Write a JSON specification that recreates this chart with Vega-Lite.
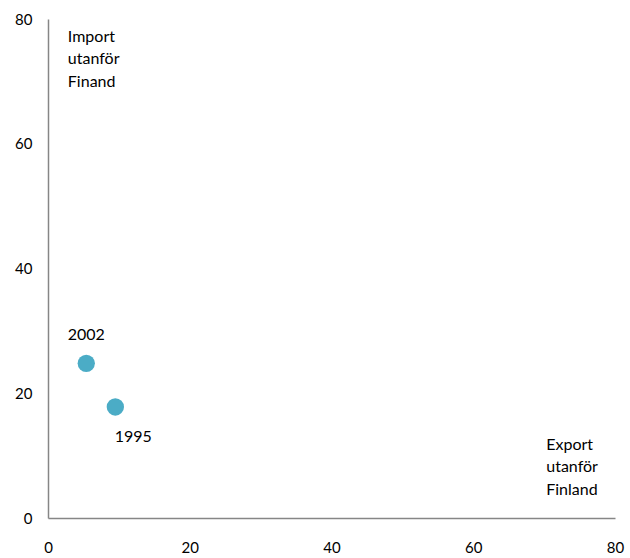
{
  "$schema": "https://vega.github.io/schema/vega-lite/v6.json",
  "autosize": "none",
  "width": 567,
  "height": 499,
  "padding": {"left": 48, "top": 19, "right": 15, "bottom": 40},
  "background": "white",
  "config": {
    "view": {"stroke": null},
    "font": "Lato",
    "axis": {"grid": false, "ticks": false, "domainColor": "#868686", "domainWidth": 1.5, "labelFont": "Lato", "labelFontSize": 15, "labelColor": "#000000", "title": null}
  },
  "datasets": {
    "points": [
      {"export": 5.4, "import": 24.8, "year": "2002"},
      {"export": 9.5, "import": 17.8, "year": "1995"}
    ],
    "notes": [
      {"x": 2.8, "y": 78.4, "text": ["Import", "utanför", "Finand"]},
      {"x": 70.3, "y": 13.0, "text": ["Export", "utanför", "Finland"]}
    ]
  },
  "layer": [
    {
      "data": {"name": "points"},
      "mark": {"type": "circle", "size": 300, "opacity": 1, "color": "#4BACC6"},
      "encoding": {
        "x": {"field": "export", "type": "quantitative", "scale": {"domain": [0, 80], "nice": false}, "axis": {"values": [0, 20, 40, 60, 80], "labelPadding": 22, "labelFlush": false}},
        "y": {"field": "import", "type": "quantitative", "scale": {"domain": [0, 80], "nice": false}, "axis": {"values": [0, 20, 40, 60, 80], "labelPadding": 16}}
      }
    },
    {
      "data": {"name": "points"},
      "transform": [{"filter": "datum.year == '2002'"}],
      "mark": {"type": "text", "fontSize": 16, "font": "Lato", "dy": -28, "color": "#000000"},
      "encoding": {
        "x": {"field": "export", "type": "quantitative"},
        "y": {"field": "import", "type": "quantitative"},
        "text": {"field": "year"}
      }
    },
    {
      "data": {"name": "points"},
      "transform": [{"filter": "datum.year == '1995'"}],
      "mark": {"type": "text", "fontSize": 16, "font": "Lato", "dx": 18, "dy": 30, "color": "#000000"},
      "encoding": {
        "x": {"field": "export", "type": "quantitative"},
        "y": {"field": "import", "type": "quantitative"},
        "text": {"field": "year"}
      }
    },
    {
      "data": {"name": "notes"},
      "mark": {"type": "text", "fontSize": 16, "font": "Lato", "align": "left", "baseline": "top", "lineHeight": 22.5, "color": "#000000"},
      "encoding": {
        "x": {"field": "x", "type": "quantitative"},
        "y": {"field": "y", "type": "quantitative"},
        "text": {"field": "text"}
      }
    }
  ]
}
